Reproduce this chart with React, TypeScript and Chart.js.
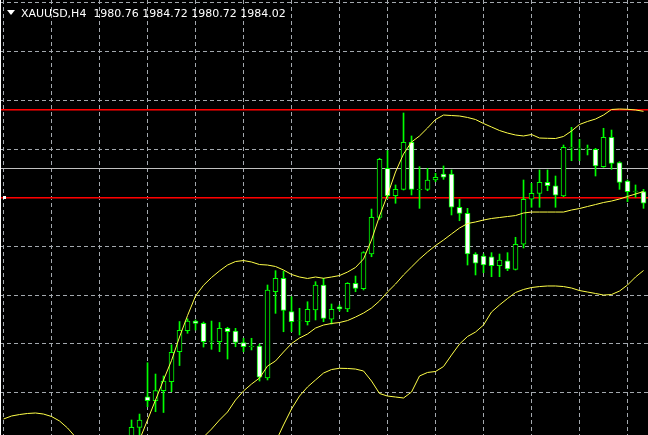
import { useEffect, useRef } from "react";
import { Chart, registerables } from "chart.js";

Chart.register(...registerables);

// ---- header ----
const symbolLabel = "XAUUSD,H4";
const quoteValues = ["1980.76", "1984.72", "1980.72", "1984.02"];

// ---- candles (bar index firstBar .. firstBar + n - 1) ----
const firstBar = 16;
const opens = [
  1959.92, 1961.43, 1964.57, 1964.16, 1965.19, 1966.11, 1969.19, 1971.35, 1972.34, 1972.11,
  1970.26, 1970.22, 1971.59, 1971.32, 1970.14, 1969.71, 1969.78, 1966.49, 1975.35, 1976.73,
  1973.32, 1972.34, 1972.27, 1973.47, 1976.04, 1972.52, 1973.81, 1973.58, 1976.21, 1975.66,
  1979.22, 1982.99, 1988.02, 1985.21, 1985.86, 1990.69, 1985.83, 1985.86, 1986.82, 1987.44,
  1987.44, 1984.02, 1983.40, 1979.22, 1979.02, 1978.94, 1978.02, 1978.53, 1977.65, 1980.22,
  1984.84, 1985.45, 1986.58, 1986.23, 1985.18, 1990.13, 1990.02, 1990.02, 1989.97, 1988.19,
  1991.20, 1988.60, 1986.72, 1985.66, 1985.62,
];
const highs = [
  1962.18, 1962.79, 1968.06, 1966.90, 1966.70, 1969.91, 1972.29, 1972.57, 1972.45, 1972.24,
  1972.34, 1972.19, 1971.70, 1971.59, 1970.57, 1970.57, 1969.98, 1976.04, 1977.51, 1977.46,
  1974.84, 1973.65, 1974.32, 1976.38, 1976.73, 1974.09, 1973.99, 1976.28, 1976.96, 1979.46,
  1983.84, 1989.05, 1989.83, 1986.31, 1993.70, 1991.34, 1988.19, 1988.02, 1987.51, 1988.26,
  1987.85, 1984.84, 1983.91, 1979.36, 1979.22, 1979.36, 1979.22, 1979.36, 1980.94, 1986.82,
  1986.48, 1987.85, 1987.85, 1987.23, 1990.41, 1992.23, 1991.00, 1990.41, 1990.07, 1992.13,
  1991.95, 1988.70, 1986.82, 1986.31, 1985.86,
];
const lows = [
  1959.51, 1960.43, 1963.54, 1963.03, 1962.95, 1965.08, 1967.77, 1971.08, 1971.42, 1969.67,
  1969.44, 1969.19, 1968.44, 1969.70, 1969.19, 1969.37, 1966.18, 1966.29, 1973.13, 1971.24,
  1971.24, 1970.91, 1971.93, 1972.45, 1972.27, 1972.03, 1973.37, 1973.30, 1975.35, 1975.53,
  1978.94, 1982.78, 1984.94, 1984.43, 1985.79, 1985.28, 1983.91, 1985.72, 1986.64, 1986.89,
  1983.23, 1982.64, 1978.09, 1977.07, 1977.30, 1976.89, 1976.89, 1977.51, 1977.58, 1979.84,
  1984.02, 1984.02, 1985.72, 1984.02, 1985.11, 1988.80, 1988.80, 1989.39, 1987.23, 1988.12,
  1987.92, 1985.86, 1984.59, 1985.04, 1983.91,
];
const closes = [
  1961.43, 1962.18, 1964.16, 1965.19, 1966.18, 1969.13, 1971.39, 1972.34, 1972.09, 1970.22,
  1970.29, 1971.59, 1971.24, 1970.14, 1969.70, 1969.75, 1966.59, 1975.53, 1976.73, 1973.42,
  1972.27, 1972.37, 1973.54, 1976.04, 1972.62, 1973.54, 1973.58, 1976.21, 1975.70, 1979.36,
  1982.99, 1988.94, 1985.21, 1985.86, 1990.69, 1985.86, 1985.86, 1986.82, 1987.10, 1987.10,
  1984.02, 1983.40, 1979.22, 1978.27, 1978.09, 1978.02, 1978.61, 1977.68, 1980.22, 1984.84,
  1985.45, 1986.58, 1986.23, 1985.25, 1990.18, 1990.16, 1990.05, 1990.05, 1988.26, 1991.20,
  1988.53, 1986.58, 1985.62, 1985.69, 1984.43,
];

// ---- Bollinger bands ----
const upperStart = 0;
const upperBand = [
  1962.28, 1962.59, 1962.74, 1962.85, 1962.90, 1962.79, 1962.54, 1962.08, 1961.36, 1960.43,
  1959.61, 1959.00, 1958.59, 1958.38, 1958.48, 1958.89, 1959.41, 1960.13, 1962.18, 1964.23,
  1966.29, 1968.29, 1970.70, 1972.90, 1974.91, 1976.01, 1976.81, 1977.49, 1978.09, 1978.45,
  1978.55, 1978.40, 1978.14, 1978.09, 1977.94, 1977.58, 1977.12, 1976.86, 1976.71, 1976.86,
  1976.73, 1976.86, 1977.01, 1977.37, 1977.84, 1978.71, 1980.66, 1983.12, 1985.28, 1987.64,
  1989.49, 1990.72, 1991.34, 1992.16, 1993.03, 1993.49, 1993.44, 1993.39, 1993.24, 1993.03,
  1992.62, 1992.26, 1991.90, 1991.64, 1991.44, 1991.34, 1991.49, 1991.13, 1991.10, 1991.08,
  1991.29, 1991.85, 1992.52, 1992.83, 1993.08, 1993.49, 1994.06, 1994.11, 1994.08, 1994.01,
  1993.87,
];
const middleStart = 24;
const middleBand = [
  1959.41, 1960.43, 1961.25, 1962.18, 1963.00, 1964.23, 1965.16, 1965.87, 1966.49, 1967.72,
  1968.24, 1969.16, 1970.03, 1970.60, 1971.01, 1971.62, 1971.93, 1972.09, 1972.19, 1972.39,
  1972.75, 1973.16, 1973.68, 1974.40, 1975.32, 1976.14, 1977.07, 1977.89, 1978.71, 1979.43,
  1980.09, 1980.66, 1981.28, 1981.89, 1982.35, 1982.51, 1982.71, 1982.87, 1982.97, 1983.07,
  1983.17, 1983.43, 1983.53, 1983.53, 1983.53, 1983.53, 1983.53, 1983.74, 1983.89, 1984.10,
  1984.30, 1984.51, 1984.66, 1984.87, 1985.13, 1985.38, 1985.64,
];
const lowerStart = 33;
const lowerBand = [
  1958.89, 1959.92, 1961.67, 1963.31, 1964.64, 1965.57, 1966.29, 1967.00, 1967.36, 1967.49,
  1967.47, 1967.41, 1967.21, 1966.18, 1964.90, 1964.64, 1964.54, 1964.44, 1965.05, 1966.70,
  1967.06, 1967.16, 1967.67, 1968.85, 1969.98, 1970.75, 1971.21, 1971.93, 1973.27, 1973.99,
  1974.65, 1975.27, 1975.58, 1975.78, 1975.88, 1975.94, 1975.94, 1975.88, 1975.73, 1975.47,
  1975.32, 1975.17, 1975.01, 1975.06, 1975.42, 1976.04, 1976.86, 1977.53,
];

// ---- horizontal objects ----
const redLevels = [1994.05, 1985.05];
const greyLevels = [1988.02];
const markedLevel = 1985.05;

// ---- visible window / grid ----
const priceMin = 1960.64;
const priceMax = 2005.3;
const barMin = -0.44;
const barMax = 80.56;
const gridPriceStep = 5;
const gridBarStep = 6;

const GRID_COLOR = "#a3a8ae";
const CANDLE_LINE = "#00ff00";
const BAND_COLOR = "#ffff48";
const RED_COLOR = "#ff0000";
const RED_EDGE = "#8a0000";

function toPoints(start: number, values: number[]) {
  return values.map((v, i) => ({ x: start + i, y: v }));
}

function rowOf(ys: any, value: number) {
  return Math.floor(ys.getPixelForValue(value));
}

const mtPlugin = {
  id: "mtDecor",
  beforeDraw(chart: any) {
    const { ctx, width, height } = chart;
    ctx.save();
    ctx.fillStyle = "#000000";
    ctx.fillRect(0, 0, width, height);
    ctx.restore();
  },
  beforeDatasetsDraw(chart: any) {
    const { ctx, chartArea } = chart;
    const xs = chart.scales.x;
    const ys = chart.scales.y;
    const w = chartArea.right - chartArea.left;
    const levelRows = redLevels.concat(greyLevels).map((lv) => rowOf(ys, lv));
    ctx.save();
    ctx.lineWidth = 1;
    ctx.strokeStyle = GRID_COLOR;
    ctx.setLineDash([4, 3]);
    for (let b = 0; b <= barMax; b += gridBarStep) {
      const px = Math.floor(xs.getPixelForValue(b)) + 0.5;
      ctx.beginPath();
      ctx.moveTo(px, chartArea.top);
      ctx.lineTo(px, chartArea.bottom);
      ctx.stroke();
    }
    const startP = Math.ceil(priceMin / gridPriceStep) * gridPriceStep;
    for (let p = startP; p <= priceMax; p += gridPriceStep) {
      const r = rowOf(ys, p);
      if (levelRows.some((lr) => Math.abs(lr - r) <= 1)) continue;
      ctx.beginPath();
      ctx.moveTo(chartArea.left, r + 0.5);
      ctx.lineTo(chartArea.right, r + 0.5);
      ctx.stroke();
    }
    ctx.restore();
    ctx.save();
    ctx.fillStyle = "#c0c0c0";
    greyLevels.forEach((lv) => ctx.fillRect(chartArea.left, rowOf(ys, lv), w, 1));
    redLevels.forEach((lv) => {
      const r = rowOf(ys, lv);
      ctx.fillStyle = RED_EDGE;
      ctx.fillRect(chartArea.left, r + 1, w, 1);
      ctx.fillStyle = RED_COLOR;
      ctx.fillRect(chartArea.left, r, w, 1);
    });
    ctx.restore();
  },
  afterDraw(chart: any) {
    const { ctx, chartArea } = chart;
    const xs = chart.scales.x;
    const ys = chart.scales.y;
    ctx.save();
    ctx.fillStyle = "#ffffff";
    ctx.fillRect(chartArea.left, chartArea.top, 1, chartArea.bottom - chartArea.top);
    const mx = Math.round(xs.getPixelForValue(0));
    const my = rowOf(ys, markedLevel);
    ctx.fillRect(mx - 1, my - 1, 3, 3);
    ctx.restore();
  },
};

export default function App() {
  const canvasRef = useRef<HTMLCanvasElement | null>(null);

  useEffect(() => {
    document.body.style.margin = "0";
    document.body.style.background = "#000";
    const canvas = canvasRef.current;
    if (!canvas) return;

    const idx = opens.map((_, i) => firstBar + i);
    const isBull = opens.map((o, i) => closes[i] > o);

    const bandStyle = {
      type: "line",
      borderColor: BAND_COLOR,
      borderWidth: 1,
      pointRadius: 0,
      tension: 0,
      fill: false,
    };

    const chart = new Chart(canvas, {
      type: "bar",
      data: {
        datasets: [
          { ...bandStyle, data: toPoints(upperStart, upperBand) } as any,
          { ...bandStyle, data: toPoints(middleStart, middleBand) } as any,
          { ...bandStyle, data: toPoints(lowerStart, lowerBand) } as any,
          {
            type: "bar",
            data: idx.map((x, i) => ({ x, y: [opens[i], closes[i]] })),
            backgroundColor: isBull.map((b) => (b ? "#000000" : "#ffffff")),
            borderColor: CANDLE_LINE,
            borderWidth: 1,
            borderSkipped: false,
            barThickness: 5,
            grouped: false,
          } as any,
          {
            type: "bar",
            data: idx.map((x, i) => ({ x, y: [lows[i], highs[i]] })),
            backgroundColor: CANDLE_LINE,
            borderWidth: 0,
            barThickness: 1,
            grouped: false,
          } as any,
        ],
      },
      options: {
        animation: false,
        responsive: false,
        maintainAspectRatio: false,
        events: [],
        layout: { padding: 0 },
        plugins: {
          legend: { display: false },
          tooltip: { enabled: false },
          title: { display: false },
        },
        scales: {
          x: { type: "linear", min: barMin, max: barMax, offset: false, display: false },
          y: { type: "linear", min: priceMin, max: priceMax, display: false },
        },
      } as any,
      plugins: [mtPlugin],
    });

    return () => chart.destroy();
  }, []);

  return (
    <div style={{ position: "relative", width: 648, height: 435, background: "#000", overflow: "hidden" }}>
      <canvas ref={canvasRef} width={648} height={435} style={{ display: "block" }} />
      <div
        style={{
          position: "absolute",
          left: 7,
          top: 10,
          width: 0,
          height: 0,
          borderLeft: "4px solid transparent",
          borderRight: "4px solid transparent",
          borderTop: "5px solid #ffffff",
        }}
      />
      <div
        style={{
          position: "absolute",
          left: 21,
          top: 7,
          color: "#ffffff",
          fontFamily: '"DejaVu Sans", sans-serif',
          fontSize: 11,
          lineHeight: "13px",
          whiteSpace: "pre",
        }}
      >
        {symbolLabel + "  " + quoteValues.join(" ")}
      </div>
    </div>
  );
}
